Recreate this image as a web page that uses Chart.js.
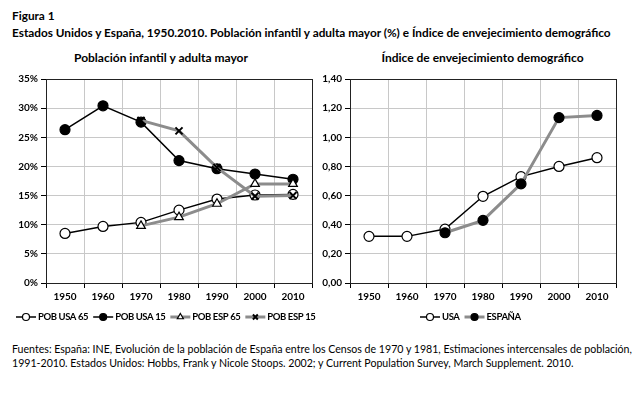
<!DOCTYPE html>
<html lang="es">
<head>
    <meta charset="UTF-8">
    <title>Figura 1</title>
    <script src="https://cdn.jsdelivr.net/npm/chart.js"></script>
    <style>
        body { margin: 0; background: #fff; font-family: Lato, sans-serif; color: #000; }
        .txt { position: absolute; left: 12px; white-space: nowrap; }
        .bold { font-weight: bold; font-size: 11.8px; }
        .sub { position: absolute; font-weight: bold; font-size: 12px; text-align: center; white-space: nowrap; }
        .note { font-size: 10.6px; line-height: 14px; }
        canvas { position: absolute; }
    </style>
</head>
<body>
    <div class="txt bold" style="top:8px">Figura 1</div>
    <div class="txt bold" style="top:25px">Estados Unidos y España, 1950.2010. Población infantil y adulta mayor (%) e Índice de envejecimiento demográfico</div>
    <div class="sub" style="left:0; width:322px; top:50px">Población infantil y adulta mayor</div>
    <div class="sub" style="left:322px; width:321px; top:50px">Índice de envejecimiento demográfico</div>
    <canvas id="chartLeft" width="322" height="285" style="left:0; top:48px"></canvas>
    <canvas id="chartRight" width="321" height="285" style="left:322px; top:48px"></canvas>
    <div class="txt note" style="top:342px">Fuentes: España: INE, Evolución de la población de España entre los Censos de 1970 y 1981, Estimaciones intercensales de población,<br>1991-2010. Estados Unidos: Hobbs, Frank y Nicole Stoops. 2002; y Current Population Survey, March Supplement. 2010.</div>

    <script>
        // Datos
        const years = ['1950', '1960', '1970', '1980', '1990', '2000', '2010'];
        const pobUsa65 = [8.5, 9.7, 10.4, 12.5, 14.4, 15.1, 15.2];
        const pobUsa15 = [26.3, 30.4, 27.6, 21.0, 19.6, 18.7, 17.8];
        const pobEsp65 = [null, null, 9.8, 11.3, 13.6, 17.0, 17.0];
        const pobEsp15 = [null, null, 27.9, 26.1, 19.8, 14.9, 15.0];
        const indiceUsa = [0.32, 0.32, 0.37, 0.595, 0.73, 0.80, 0.86];
        const indiceEsp = [null, null, 0.345, 0.43, 0.68, 1.135, 1.15];

        const GRAY = '#8c8c8c';
        const FONT = 'Lato, sans-serif';

        // draws the plot frame and a line+marker legend under the plot
        const framePlugin = {
            id: 'frame',
            afterDatasetsDraw(chart) {
                const a = chart.chartArea;
                const ctx = chart.ctx;
                ctx.save();
                ctx.strokeStyle = '#222';
                ctx.lineWidth = 1;
                ctx.strokeRect(Math.round(a.left) + 0.5, Math.round(a.top) + 0.5,
                    Math.round(a.right - a.left), Math.round(a.bottom - a.top));
                ctx.restore();
            },
            afterDraw(chart, args, opts) {
                const ctx = chart.ctx;
                let x = opts.x;
                const y = opts.y;
                ctx.save();
                ctx.font = 'bold 9.5px ' + FONT;
                ctx.letterSpacing = '-0.4px';
                ctx.textBaseline = 'middle';
                chart.data.datasets.forEach(ds => {
                    const len = 20;
                    ctx.strokeStyle = ds.borderColor;
                    ctx.lineWidth = ds.borderWidth;
                    ctx.beginPath();
                    ctx.moveTo(x, y);
                    ctx.lineTo(x + len, y);
                    ctx.stroke();
                    ctx.fillStyle = ds.pointBackgroundColor;
                    ctx.strokeStyle = ds.pointBorderColor;
                    ctx.lineWidth = ds.pointBorderWidth;
                    Chart.helpers.drawPoint(ctx, {
                        pointStyle: ds.pointStyle, radius: 3.5, rotation: 0, borderWidth: ds.pointBorderWidth
                    }, x + len / 2, y);
                    ctx.fillStyle = '#000';
                    ctx.fillText(ds.label, x + len + 2, y);
                    x += len + 2 + ctx.measureText(ds.label).width + opts.gap;
                });
                ctx.restore();
            }
        };

        function lineSet(label, data, esp, style, fill) {
            return {
                label: label,
                data: data,
                borderColor: esp ? GRAY : '#000',
                borderWidth: esp ? 3 : 1.5,
                pointStyle: style,
                pointRadius: 5,
                pointHoverRadius: 5,
                pointBackgroundColor: fill,
                pointBorderColor: '#000',
                pointBorderWidth: style === 'crossRot' ? 2 : 1.2,
                tension: 0,
                order: esp ? 0 : 1
            };
        }

        function makeChart(canvasId, datasets, yOpts, yWidth, rightPad, legendX) {
            const ctx = document.getElementById(canvasId).getContext('2d');
            return new Chart(ctx, {
                type: 'line',
                data: { labels: years, datasets: datasets },
                options: {
                    responsive: false,
                    animation: false,
                    layout: { padding: { top: 31, right: rightPad, bottom: 0, left: 0 } },
                    plugins: {
                        legend: { display: false },
                        tooltip: { enabled: false },
                        frame: { x: legendX, y: 269, gap: 5 }
                    },
                    scales: {
                        x: {
                            offset: true,
                            grid: { offset: true, color: '#c8c8c8', tickColor: '#000', tickLength: 5 },
                            border: { color: '#000' },
                            ticks: { color: '#000', font: { family: FONT, weight: 'bold', size: 10 }, padding: 3, maxRotation: 0 },
                            afterFit(scale) { scale.height = 50; }
                        },
                        y: Object.assign({
                            grid: { color: '#c8c8c8', tickColor: '#000', tickLength: 5 },
                            border: { color: '#000' },
                            afterFit(scale) { scale.width = yWidth; }
                        }, yOpts)
                    }
                },
                plugins: [framePlugin]
            });
        }

        window.onload = () => {
            makeChart('chartLeft', [
                lineSet('POB USA 65', pobUsa65, false, 'circle', '#fff'),
                lineSet('POB USA 15', pobUsa15, false, 'circle', '#000'),
                lineSet('POB ESP 65', pobEsp65, true, 'triangle', '#fff'),
                lineSet('POB ESP 15', pobEsp15, true, 'crossRot', '#000')
            ], {
                min: 0, max: 35,
                ticks: {
                    stepSize: 5, color: '#000', padding: 3,
                    font: { family: FONT, weight: 'bold', size: 10 },
                    callback: v => v + '%'
                }
            }, 46, 10, 16);

            makeChart('chartRight', [
                lineSet('USA', indiceUsa, false, 'circle', '#fff'),
                lineSet('ESPAÑA', indiceEsp, true, 'circle', '#000')
            ], {
                min: 0, max: 1.4,
                ticks: {
                    stepSize: 0.2, color: '#000', padding: 3,
                    font: { family: FONT, weight: 'bold', size: 10 },
                    callback: v => v.toFixed(2).replace('.', ',')
                }
            }, 28, 27, 98);
        };
    </script>
</body>
</html>
